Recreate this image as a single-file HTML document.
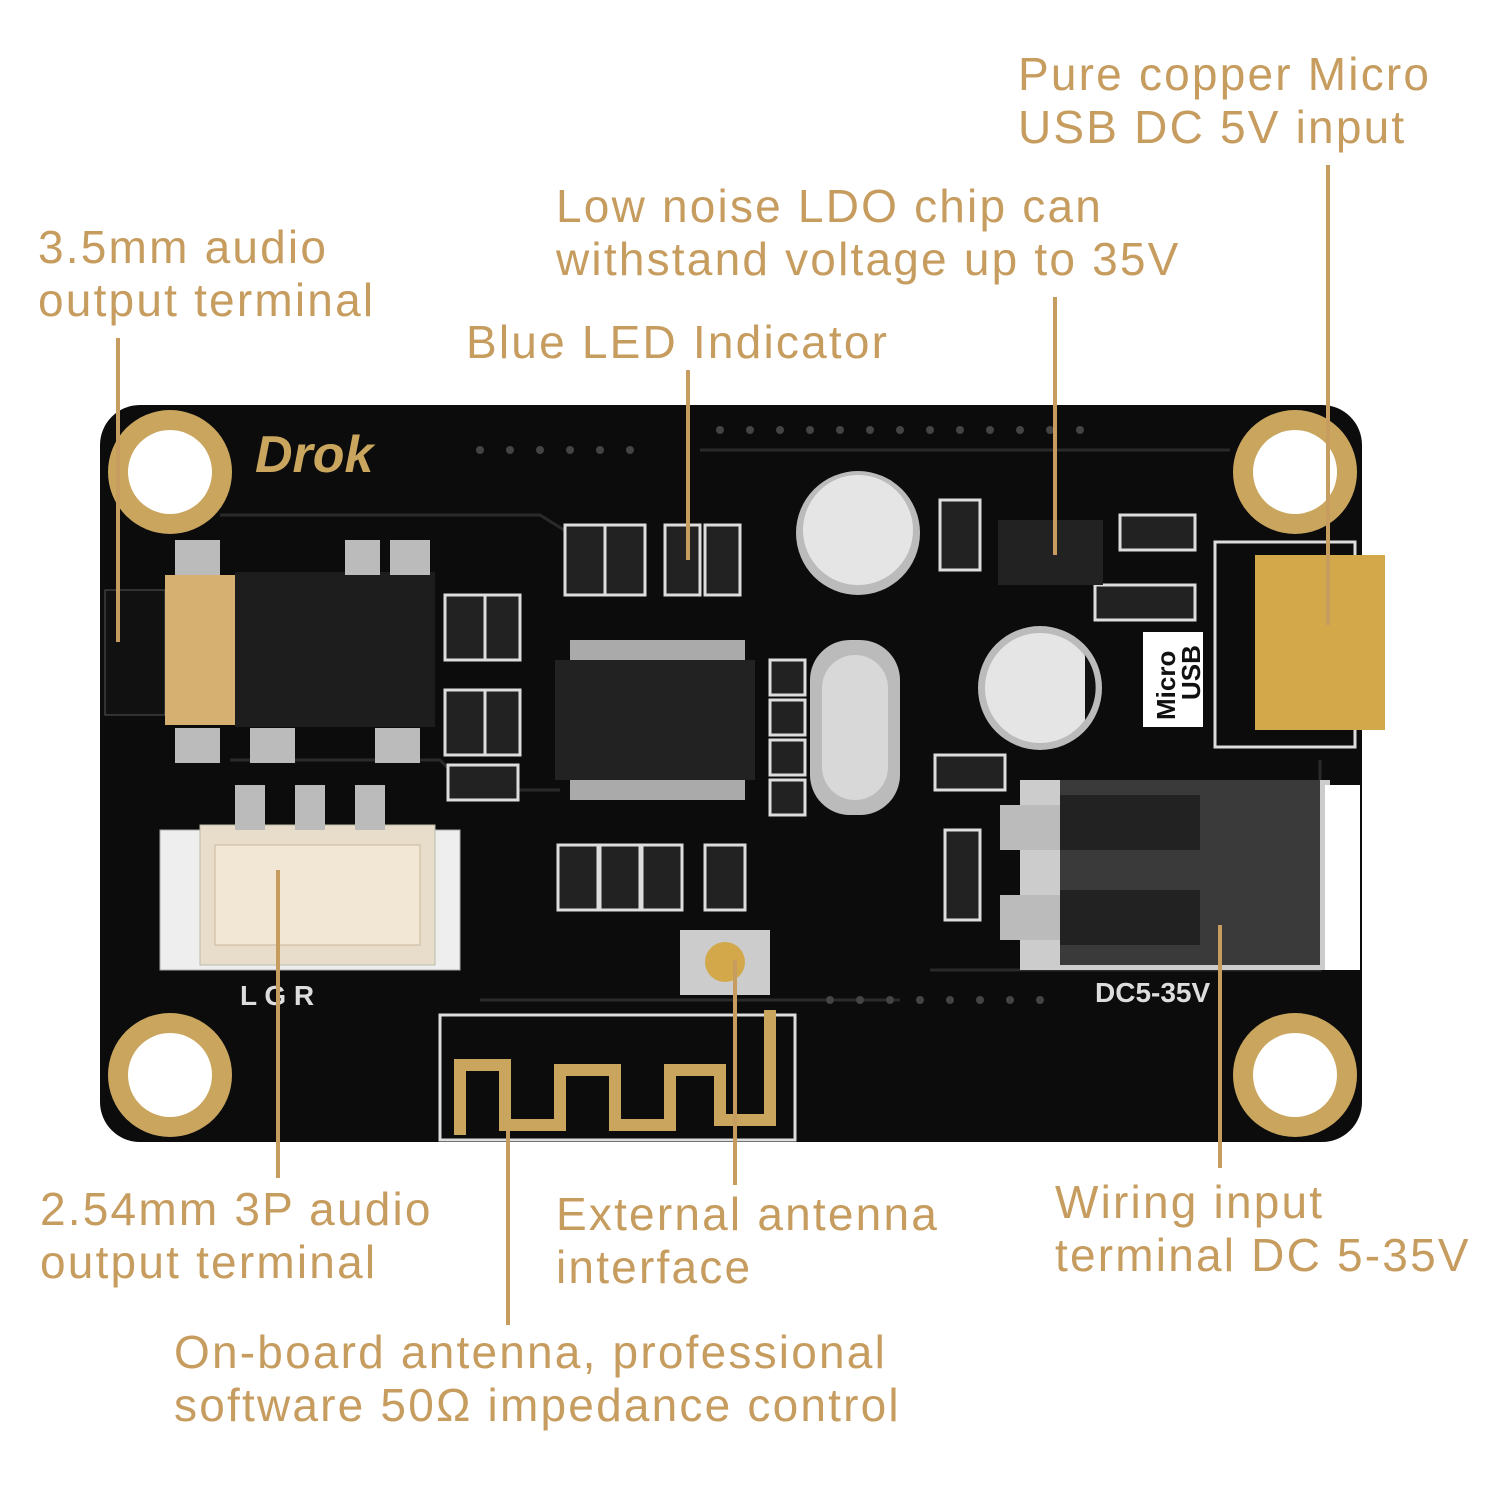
<!DOCTYPE html>
<html><head><meta charset="utf-8"><style>
html,body{margin:0;padding:0;background:#fff;}
.wrap{position:relative;width:1500px;height:1500px;overflow:hidden;background:#fff;}
.t{position:absolute;font-family:"Liberation Sans",sans-serif;font-size:46px;color:#c69c5f;line-height:53px;white-space:nowrap;letter-spacing:2.2px;}
svg{position:absolute;left:0;top:0;}
</style></head><body><div class="wrap">
<svg width="1500" height="1500" viewBox="0 0 1500 1500">
<rect x="100" y="405" width="1262" height="737" rx="40" fill="#0c0c0c"/>
<g fill="none" stroke="#2a2a2a" stroke-width="3">
<path d="M220 515 H540 L580 540"/><path d="M700 450 H1230"/><path d="M930 970 H1320 V760"/>
<path d="M230 760 H440 L470 790 H560"/><path d="M480 1000 H900"/>
</g>
<g fill="#444">
<circle cx="480" cy="450" r="4"/><circle cx="510" cy="450" r="4"/><circle cx="540" cy="450" r="4"/><circle cx="570" cy="450" r="4"/><circle cx="600" cy="450" r="4"/><circle cx="630" cy="450" r="4"/>
<circle cx="720" cy="430" r="4"/><circle cx="750" cy="430" r="4"/><circle cx="780" cy="430" r="4"/><circle cx="810" cy="430" r="4"/><circle cx="840" cy="430" r="4"/><circle cx="870" cy="430" r="4"/><circle cx="900" cy="430" r="4"/><circle cx="930" cy="430" r="4"/><circle cx="960" cy="430" r="4"/><circle cx="990" cy="430" r="4"/><circle cx="1020" cy="430" r="4"/><circle cx="1050" cy="430" r="4"/><circle cx="1080" cy="430" r="4"/>
<circle cx="830" cy="1000" r="4"/><circle cx="860" cy="1000" r="4"/><circle cx="890" cy="1000" r="4"/><circle cx="920" cy="1000" r="4"/><circle cx="950" cy="1000" r="4"/><circle cx="980" cy="1000" r="4"/><circle cx="1010" cy="1000" r="4"/><circle cx="1040" cy="1000" r="4"/>
</g>
<g>
<circle cx="170" cy="472" r="62" fill="#c9a55e"/><circle cx="170" cy="472" r="42" fill="#fff"/>
<circle cx="1295" cy="472" r="62" fill="#c9a55e"/><circle cx="1295" cy="472" r="42" fill="#fff"/>
<circle cx="170" cy="1075" r="62" fill="#c9a55e"/><circle cx="170" cy="1075" r="42" fill="#fff"/>
<circle cx="1295" cy="1075" r="62" fill="#c9a55e"/><circle cx="1295" cy="1075" r="42" fill="#fff"/>
</g>
<text x="255" y="472" font-family="Liberation Sans" font-style="italic" font-weight="bold" font-size="52" fill="#c9a55e">Drok</text>
<rect x="105" y="590" width="60" height="125" fill="#111" stroke="#555"/>
<rect x="165" y="575" width="70" height="150" fill="#d6b070"/>
<rect x="235" y="572" width="200" height="155" fill="#1d1d1d"/>
<rect x="175" y="540" width="45" height="35" fill="#bbb"/><rect x="345" y="540" width="35" height="35" fill="#bbb"/><rect x="390" y="540" width="40" height="35" fill="#bbb"/>
<rect x="175" y="728" width="45" height="35" fill="#bbb"/><rect x="250" y="728" width="45" height="35" fill="#bbb"/><rect x="375" y="728" width="45" height="35" fill="#bbb"/>
<rect x="160" y="830" width="300" height="140" fill="#eee" stroke="#aaa"/>
<rect x="200" y="825" width="235" height="140" fill="#e8dccb" stroke="#bba"/>
<rect x="215" y="845" width="205" height="100" fill="#f2e6d4" stroke="#c8b89c"/>
<rect x="235" y="785" width="30" height="45" fill="#bbb"/><rect x="295" y="785" width="30" height="45" fill="#bbb"/><rect x="355" y="785" width="30" height="45" fill="#bbb"/>
<text x="240" y="1005" font-family="Liberation Sans" font-weight="bold" font-size="28" fill="#ddd">L  G  R</text>
<rect x="570" y="640" width="175" height="20" fill="#aaa"/>
<rect x="570" y="780" width="175" height="20" fill="#aaa"/>
<rect x="555" y="660" width="200" height="120" fill="#222"/>
<g fill="#222" stroke="#ddd" stroke-width="3">
<rect x="565" y="525" width="40" height="70"/><rect x="605" y="525" width="40" height="70"/><rect x="665" y="525" width="35" height="70"/><rect x="705" y="525" width="35" height="70"/>
<rect x="445" y="595" width="40" height="65"/><rect x="485" y="595" width="35" height="65"/><rect x="445" y="690" width="40" height="65"/><rect x="485" y="690" width="35" height="65"/><rect x="448" y="765" width="70" height="35"/>
<rect x="558" y="845" width="40" height="65"/><rect x="600" y="845" width="40" height="65"/><rect x="642" y="845" width="40" height="65"/><rect x="705" y="845" width="40" height="65"/>
<rect x="770" y="660" width="35" height="35"/><rect x="770" y="700" width="35" height="35"/><rect x="770" y="740" width="35" height="35"/><rect x="770" y="780" width="35" height="35"/>
<rect x="940" y="500" width="40" height="70"/><rect x="1120" y="515" width="75" height="35"/><rect x="1095" y="585" width="100" height="35"/><rect x="935" y="755" width="70" height="35"/><rect x="945" y="830" width="35" height="90"/>
</g>
<circle cx="858" cy="533" r="62" fill="#bbb"/><circle cx="858" cy="530" r="55" fill="#e5e5e5"/>
<circle cx="1040" cy="688" r="62" fill="#bbb"/><circle cx="1040" cy="688" r="55" fill="#e5e5e5"/><path d="M1085 655 A55 55 0 0 1 1085 720 Z" fill="#111"/>
<rect x="810" y="640" width="90" height="175" rx="40" fill="#bbb"/><rect x="822" y="655" width="66" height="145" rx="33" fill="#d8d8d8"/>
<rect x="998" y="520" width="105" height="65" fill="#222"/>
<rect x="1143" y="632" width="60" height="95" fill="#fff"/>
<text x="1175" y="720" transform="rotate(-90 1175 720)" font-family="Liberation Sans" font-weight="bold" font-size="26" fill="#111">Micro</text>
<text x="1200" y="700" transform="rotate(-90 1200 700)" font-family="Liberation Sans" font-weight="bold" font-size="26" fill="#111">USB</text>
<rect x="1215" y="542" width="140" height="205" fill="none" stroke="#ddd" stroke-width="3"/>
<rect x="1255" y="555" width="130" height="175" fill="#d2a84a"/>
<rect x="1020" y="780" width="310" height="190" fill="#ccc"/>
<rect x="1060" y="780" width="260" height="185" fill="#3a3a3a"/>
<rect x="1060" y="795" width="140" height="55" fill="#222"/><rect x="1060" y="890" width="140" height="55" fill="#222"/>
<rect x="1325" y="785" width="35" height="185" fill="#fff"/>
<rect x="1000" y="805" width="60" height="45" fill="#bbb"/><rect x="1000" y="895" width="60" height="45" fill="#bbb"/>
<text x="1095" y="1002" font-family="Liberation Sans" font-weight="bold" font-size="28" fill="#ddd">DC5-35V</text>
<rect x="440" y="1015" width="355" height="125" fill="none" stroke="#ddd" stroke-width="3"/>
<path d="M460 1135 V1065 H505 V1125 H560 V1070 H615 V1125 H670 V1070 H720 V1120 H770 V1010" fill="none" stroke="#c9a55e" stroke-width="12"/>
<rect x="680" y="930" width="90" height="65" fill="#ccc"/><circle cx="725" cy="962" r="20" fill="#d2a84a"/>
<g stroke="#c69c5f" stroke-width="4">
<line x1="118" y1="338" x2="118" y2="642"/>
<line x1="688" y1="370" x2="688" y2="560"/>
<line x1="1055" y1="297" x2="1055" y2="555"/>
<line x1="1328" y1="165" x2="1328" y2="625"/>
<line x1="278" y1="870" x2="278" y2="1178"/>
<line x1="508" y1="1130" x2="508" y2="1325"/>
<line x1="735" y1="960" x2="735" y2="1185"/>
<line x1="1220" y1="925" x2="1220" y2="1168"/>
</g>
</svg>
<div class="t" style="left:1018px;top:48px;">Pure copper Micro<br>USB DC 5V input</div>
<div class="t" style="left:556px;top:180px;">Low noise LDO chip can<br>withstand voltage up to 35V</div>
<div class="t" style="left:38px;top:221px;">3.5mm audio<br>output terminal</div>
<div class="t" style="left:466px;top:316px;">Blue LED Indicator</div>
<div class="t" style="left:40px;top:1183px;">2.54mm 3P audio<br>output terminal</div>
<div class="t" style="left:556px;top:1188px;">External antenna<br>interface</div>
<div class="t" style="left:1055px;top:1176px;">Wiring input<br>terminal DC 5-35V</div>
<div class="t" style="left:174px;top:1326px;">On-board antenna, professional<br>software 50Ω impedance control</div>
</div></body></html>
